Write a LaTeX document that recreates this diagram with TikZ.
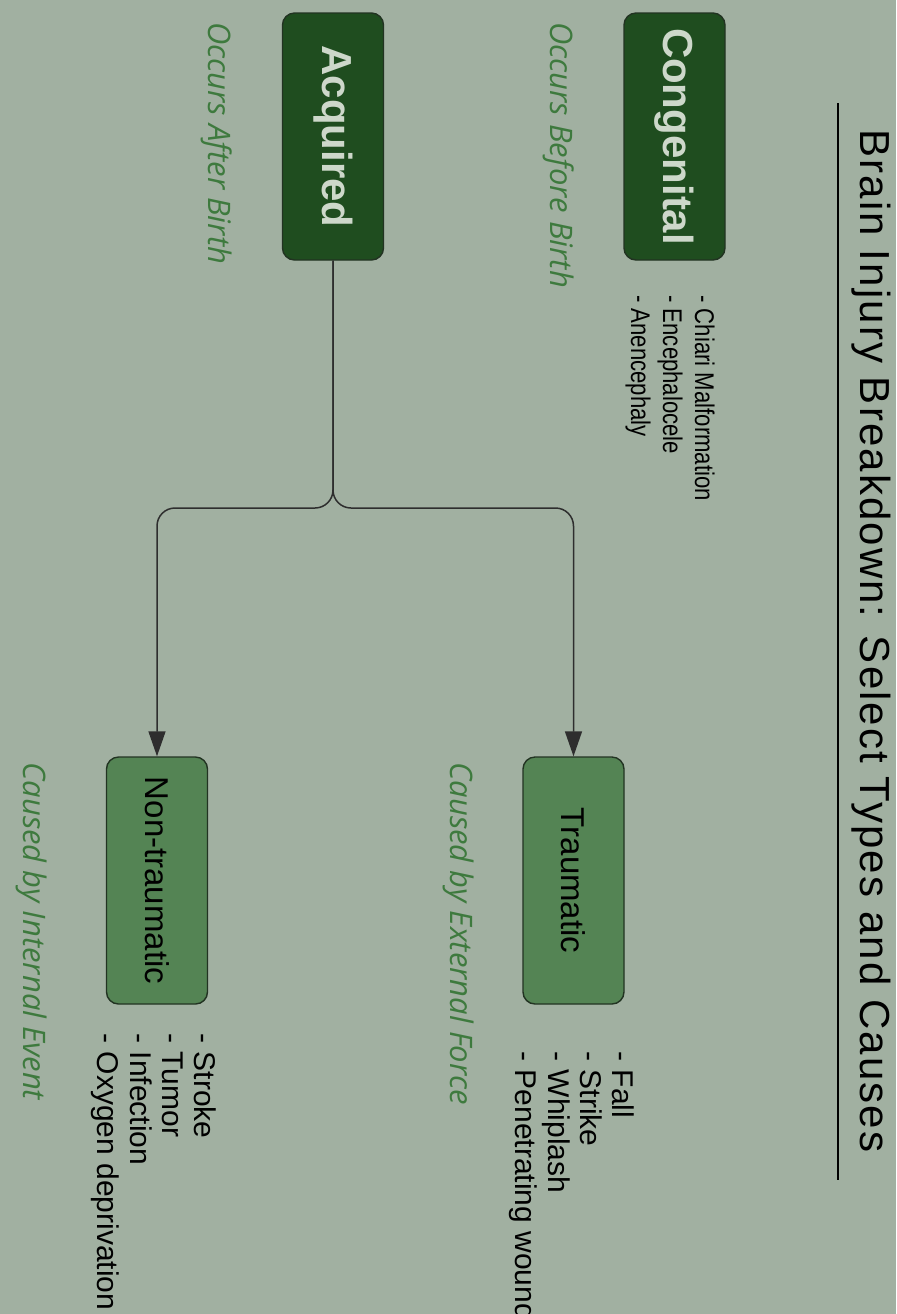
\documentclass[tikz,border=0pt]{standalone}
\usepackage{fontspec}
\setmainfont{Liberation Sans}
\newfontfamily\titlefont[LetterSpace=5]{Liberation Sans}
\newfontfamily\narrowfont[FakeStretch=0.82]{Liberation Sans}
\newfontfamily\handfont{Open Sans}
\usetikzlibrary{arrows.meta}
\definecolor{bgc}{HTML}{A1B0A1}
\definecolor{darkgreen}{HTML}{1F4D1F}
\definecolor{midgreen}{HTML}{548454}
\definecolor{boxline}{HTML}{223322}
\definecolor{lighttext}{HTML}{CDD8CA}
\definecolor{notegreen}{HTML}{3E7A3E}
\definecolor{conncol}{HTML}{2E2E2E}
\tikzset{
  darkbox/.style={rounded corners=6pt, draw=boxline, line width=0.7pt, fill=darkgreen,
    text=lighttext, font=\bfseries\fontsize{21}{25}\selectfont, rotate=-90,
    minimum width=123.5pt, minimum height=50.5pt, inner sep=0pt},
  midbox/.style={rounded corners=6pt, draw=boxline, line width=0.7pt, fill=midgreen,
    text=black, font=\fontsize{16.5}{20}\selectfont, rotate=-90,
    minimum width=123.5pt, minimum height=50.5pt, inner sep=0pt},
  smalllist/.style={rotate=-90, anchor=west, align=left, inner sep=0pt,
    font=\narrowfont\fontsize{13.5}{16}\selectfont},
  biglist/.style={rotate=-90, anchor=west, align=left, inner sep=0pt,
    font=\fontsize{15}{16.2}\selectfont},
  note/.style={rotate=-90, anchor=west, inner sep=0pt, text=notegreen,
    font=\handfont\itshape\fontsize{15.5}{18}\selectfont},
  conn/.style={draw=conncol, line width=0.75pt, rounded corners=9pt,
    -{Triangle[length=12.5pt,width=8.5pt]}}
}
\begin{document}
\begin{tikzpicture}[x=0.5pt,y=-0.5pt]
\fill[bgc] (0,0) rectangle (896,1314);
\useasboundingbox (0,0) rectangle (896,1314);

% title
\node[rotate=-90, anchor=base, inner sep=0pt, font=\titlefont\fontsize{21}{25}\selectfont] (title) at (860,641)
  {Brain Injury Breakdown: Select Types and Causes};
\coordinate (ulA) at (838,103);
\coordinate (ulB) at (838,1180);
\draw[line width=1.4pt, black] (ulA) -- (ulB);

% top row
\node[darkbox] (cong) at (674.5,136.5) {Congenital};
\node[darkbox] (acq) at (333,136.5) {Acquired};
\node[smalllist] (conglist) at (670,295) {- Chiari Malformation\\- Encephalocele\\- Anencephaly};
\node[note] (congnote) at (559,22) {Occurs Before Birth};
\node[note] (acqnote) at (217,22) {Occurs After Birth};

% bottom row
\node[midbox] (trau) at (573.5,880.5) {Traumatic};
\node[midbox] (ntrau) at (157,880.5) {Non-traumatic};
\node[biglist] (traulist) at (572,1051) {- Fall\\- Strike\\- Whiplash\\- Penetrating wound};
\node[biglist] (ntraulist) at (154,1033) {- Stroke\\- Tumor\\- Infection\\- Oxygen deprivation};
\node[note] (traunote) at (459,762) {Caused by External Force};
\node[note] (ntraunote) at (32,762) {Caused by Internal Event};

% connectors
\coordinate (jr) at (573.5,508);
\coordinate (jl) at (157,508);
\draw[conn] (acq.east) |- (jr) -- (trau.west);
\draw[conn] (acq.east) |- (jl) -- (ntrau.west);
\end{tikzpicture}
\end{document}
